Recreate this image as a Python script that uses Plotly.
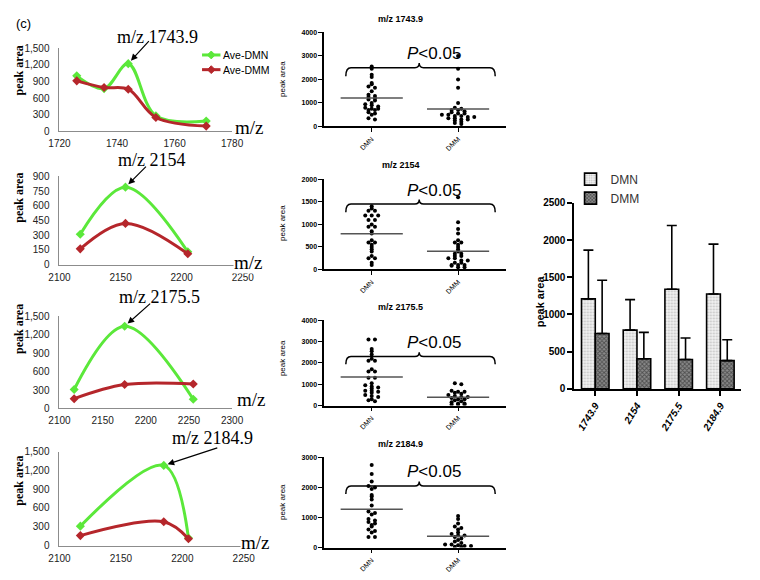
import numpy as np
import plotly.graph_objects as go

W, H = 760, 580

# ---------------- data ----------------
# left: averaged peak-area profiles (Ave-DMN / Ave-DMM)
mz_1 = [1726, 1735.5, 1743.9, 1753.5, 1771]
dmn_1 = [1000, 770, 1220, 280, 185]
dmm_1 = [910, 790, 760, 250, 95]

mz_2 = [2117, 2154, 2205]
dmn_2 = [310, 790, 130]
dmm_2 = [160, 420, 110]

mz_3 = [2117, 2175.5, 2255]
dmn_3 = [310, 1340, 150]
dmm_3 = [160, 390, 400]

mz_4 = [2117, 2184.9, 2205]
dmn_4 = [310, 1280, 120]
dmm_4 = [160, 380, 110]

line_names = ["Ave-DMN", "Ave-DMM"]
peak_labels = ["m/z 1743.9", "m/z 2154", "m/z 2175.5", "m/z 2184.9"]
peak_index = [2, 1, 1, 1]

# middle: individual peak areas
dot_titles = ["m/z 1743.9", "m/z 2154", "m/z 2175.5", "m/z 2184.9"]
dot_groups = ["DMN", "DMM"]
dmn_pts_1 = [2550, 2450, 2200, 2100, 1850, 1800, 1700, 1650, 1500, 1350, 1300, 1250, 1200, 1150,
             1100, 1000, 950, 900, 850, 800, 750, 750, 700, 700, 600, 550, 500, 350, 300]
dmm_pts_1 = [3000, 2450, 2000, 1650, 1000, 800, 750, 700, 700, 650, 600, 550, 550, 500, 500, 450,
             450, 400, 400, 350, 350, 300, 300, 250, 200, 150, 100]
dmn_pts_2 = [1400, 1350, 1300, 1300, 1200, 1200, 1200, 1100, 1100, 1000, 950, 950, 850, 800, 650,
             600, 600, 550, 500, 450, 400, 300, 250, 250, 150, 100]
dmm_pts_2 = [1600, 1050, 900, 800, 650, 600, 600, 550, 500, 450, 400, 350, 350, 300, 300, 250, 250,
             200, 200, 150, 150, 100, 100, 100, 80, 50, 50]
dmn_pts_3 = [3100, 3100, 2650, 2550, 2400, 2200, 2100, 2100, 1700, 1600, 1600, 1300, 1300, 1050, 950,
             900, 850, 800, 700, 700, 650, 600, 500, 450, 400, 300, 250, 200]
dmm_pts_3 = [1050, 1000, 700, 650, 650, 600, 550, 500, 450, 400, 400, 350, 300, 300, 250, 200, 150,
             100, 100, 50, 50, 50]
dmn_pts_4 = [2750, 2450, 2200, 2050, 2000, 1950, 1750, 1700, 1600, 1400, 1200, 1150, 1100, 950, 900,
             850, 800, 750, 700, 600, 550, 500, 350, 350]
dmm_pts_4 = [1050, 950, 800, 700, 650, 600, 500, 450, 400, 400, 350, 300, 250, 200, 150, 100, 100, 80,
             50, 50, 30, 30]
dot_ymax = [4000, 2000, 4000, 3000]
dot_dtick = [1000, 500, 1000, 1000]
bracket_y = [2500, 1450, 2300, 2050]
p_text = "<i>P</i>&lt;0.05"

# right: mean + SD
bar_cats = ["1743.9", "2154", "2175.5", "2184.9"]
dmn_mean = [1210, 790, 1340, 1275]
dmn_sd = [655, 410, 855, 670]
dmm_mean = [745, 405, 395, 380]
dmm_sd = [715, 355, 290, 280]

# ---------------- styling ----------------
GREEN = "#5BE83A"
RED = "#B5262B"
SERIF = "Liberation Serif, Times New Roman, serif"
SANS = "Liberation Sans, Arial, sans-serif"
NARROW = "Liberation Sans Narrow, Arial Narrow, Liberation Sans, sans-serif"


def dx(a, b):
    return [a / W, b / W]


def dy(top, bottom):
    return [1 - bottom / H, 1 - top / H]


def px(x):
    return x / W


def py(y):
    return 1 - y / H


fig = go.Figure()
layout = dict(width=W, height=H, margin=dict(l=0, r=0, t=0, b=0),
              paper_bgcolor="white", plot_bgcolor="white", showlegend=True,
              barmode="group", bargap=0.34, bargroupgap=0.0)
annotations = []
shapes = []

# ---------------- left line panels ----------------
line_sets = [(mz_1, dmn_1, dmm_1), (mz_2, dmn_2, dmm_2), (mz_3, dmn_3, dmm_3), (mz_4, dmn_4, dmm_4)]
line_geom = [  # (xdom px, ydom px, xrange, xdtick, ymax, ydtick)
    ((50, 228), (43, 128), [1720, 1780], 20, 1500, 300),
    ((50, 239), (174, 264), [2100, 2250], 50, 900, 150),
    ((50, 228), (317, 411), [2100, 2300], 50, 1500, 300),
    ((50, 240), (455, 551), [2100, 2250], 50, 1500, 300),
]
peak_text_pos = [(151, 32), (145, 157), (153, 297), (208, 441)]
arrow_off = [(22, -24), (22, -22), (27, -24), (55, -18)]
mz_label_pos = [(246, 124), (245, 262), (248, 402), (252, 548)]
mz_label_bg = [False, True, False, True]
ylab_center = [66, 196, 330, 485]

for i, ((mz, a, b), geom) in enumerate(zip(line_sets, line_geom)):
    (x0, x1), (y0, y1), xr, xdt, ymax, ydt = geom
    n = i + 1
    xa = "x" if n == 1 else f"x{n}"
    ya = "y" if n == 1 else f"y{n}"
    for vals, col, name in [(a, GREEN, line_names[0]), (b, RED, line_names[1])]:
        fig.add_trace(go.Scatter(
            x=mz, y=vals, mode="lines+markers", name=name, xaxis=xa, yaxis=ya,
            line=dict(color=col, width=3, shape="spline", smoothing=1.0),
            marker=dict(symbol="diamond", size=7, color=col), showlegend=False))
    key = "" if n == 1 else str(n)
    layout["xaxis" + key] = dict(domain=dx(x0, x1), range=xr, dtick=xdt, tick0=xr[0], anchor=ya,
                                 showline=True, linecolor="#8c8c8c", linewidth=1, showgrid=False,
                                 zeroline=False, ticks="", ticklabelstandoff=3,
                                 tickfont=dict(family=SANS, size=10, color="#222"))
    layout["yaxis" + key] = dict(domain=dy(y0, y1), range=[0, ymax], dtick=ydt, anchor=xa,
                                 showline=True, linecolor="#8c8c8c", linewidth=1, showgrid=False,
                                 zeroline=False, ticks="", tickformat=",d", ticklabelstandoff=7,
                                 tickfont=dict(family=SANS, size=10, color="#222"))
    # arrow to peak
    k = peak_index[i]
    annotations.append(dict(x=mz[k], y=a[k], xref=xa, yref=ya, text="", showarrow=True,
                            ax=arrow_off[i][0], ay=arrow_off[i][1], arrowhead=2, arrowsize=1.1,
                            arrowwidth=1.2, arrowcolor="black", standoff=4))
    tx, ty = peak_text_pos[i]
    annotations.append(dict(x=px(tx), y=py(ty), xref="paper", yref="paper", text=peak_labels[i],
                            showarrow=False, font=dict(family=SERIF, size=18, color="black"),
                            xanchor="center", yanchor="middle"))
    mx, my = mz_label_pos[i]
    annotations.append(dict(x=px(mx), y=py(my), xref="paper", yref="paper", text="m/z",
                            showarrow=False, font=dict(family=SERIF, size=19, color="black"),
                            xanchor="center", yanchor="middle", borderpad=0,
                            bgcolor="white" if mz_label_bg[i] else "rgba(0,0,0,0)"))
    annotations.append(dict(x=px(8), y=py(ylab_center[i]), xref="paper", yref="paper",
                            text="<b>peak area</b>", textangle=-90, showarrow=False,
                            font=dict(family=SERIF, size=12, color="black"),
                            xanchor="center", yanchor="middle"))

# legend key for the line charts (drawn as a small key box)
for j, (col, ly) in enumerate([(GREEN, 50), (RED, 65)]):
    shapes.append(dict(type="line", xref="paper", yref="paper", x0=px(197), x1=px(216),
                       y0=py(ly), y1=py(ly), line=dict(color=col, width=3)))
    cx, cy = 206.5, ly
    shapes.append(dict(type="path", xref="paper", yref="paper", fillcolor=col,
                       line=dict(color=col, width=1),
                       path=f"M {px(cx - 4)},{py(cy)} L {px(cx)},{py(cy - 4)} L {px(cx + 4)},{py(cy)} "
                            f"L {px(cx)},{py(cy + 4)} Z"))
    annotations.append(dict(x=px(217), y=py(ly), xref="paper", yref="paper", text=line_names[j],
                            showarrow=False, font=dict(family=SANS, size=10.5, color="black"),
                            xanchor="left", yanchor="middle"))

annotations.append(dict(x=px(3), y=py(18), xref="paper", yref="paper", text="(c)",
                        showarrow=False, font=dict(family=SANS, size=13, color="black"),
                        xanchor="left", yanchor="middle"))

# ---------------- middle dot plots ----------------
dot_sets = [(dmn_pts_1, dmm_pts_1), (dmn_pts_2, dmm_pts_2), (dmn_pts_3, dmm_pts_3), (dmn_pts_4, dmm_pts_4)]
dot_geom = [(27, 123), (177, 269), (321, 408), (461, 553)]
dot_title_y = [13, 162, 307, 447]
dot_ylab_y = [75, 222, 360, 507]
means = [(dmn_mean[j], dmm_mean[j]) for j in range(4)]


def swarm(vals, binw, step):
    vals = np.asarray(vals, dtype=float)
    bins = np.round(vals / binw).astype(int)
    offs = np.zeros(len(vals))
    for b in np.unique(bins):
        idx = np.where(bins == b)[0]
        m = len(idx)
        offs[idx] = (np.arange(m) - (m - 1) / 2) * step
    return offs


XR = [-0.55, 1.55]
for i, (g1, g2) in enumerate(dot_sets):
    n = 5 + i
    xa, ya = f"x{n}", f"y{n}"
    ymax = dot_ymax[i]
    y0, y1 = dot_geom[i]
    for c, vals in enumerate([g1, g2]):
        offs = swarm(vals, ymax * 0.028, 0.075)
        fig.add_trace(go.Scatter(x=c + offs, y=vals, mode="markers", xaxis=xa, yaxis=ya,
                                 marker=dict(size=4, color="black"), showlegend=False))
        fig.add_trace(go.Scatter(x=[c - 0.36, c + 0.36], y=[means[i][c]] * 2, mode="lines",
                                 xaxis=xa, yaxis=ya, line=dict(color="#555", width=1.5),
                                 showlegend=False))
    layout[f"xaxis{n}"] = dict(domain=dx(323, 510), range=XR, anchor=ya, tickvals=[0, 1],
                               ticktext=dot_groups, tickangle=-45, showline=True, linecolor="black",
                               linewidth=1.5, ticks="outside", ticklen=4, tickcolor="black",
                               showgrid=False, zeroline=False,
                               tickfont=dict(family=SANS, size=7, color="black"))
    layout[f"yaxis{n}"] = dict(domain=dy(y0, y1), range=[0, ymax], dtick=dot_dtick[i], anchor=xa,
                               showline=True, linecolor="black", linewidth=1.5, ticks="outside",
                               ticklen=4, tickcolor="black", showgrid=False, zeroline=False,
                               tickfont=dict(family=SANS, size=7, color="black", weight="bold"))
    # bracket
    yb = bracket_y[i]
    drop = ymax * 0.09
    notch = ymax * 0.05
    xl, xc, xr_ = -0.3, 0.55, 1.43
    path = (f"M {xl},{yb - drop} Q {xl},{yb} {xl + 0.06},{yb} L {xc - 0.05},{yb} "
            f"Q {xc},{yb} {xc},{yb + notch} Q {xc},{yb} {xc + 0.05},{yb} "
            f"L {xr_ - 0.06},{yb} Q {xr_},{yb} {xr_},{yb - drop}")
    shapes.append(dict(type="path", path=path, xref=xa, yref=ya,
                       line=dict(color="black", width=1.5)))
    annotations.append(dict(x=0.72, y=yb, xref=xa, yref=ya, text=p_text, showarrow=False,
                            yshift=14, font=dict(family=SANS, size=17, color="black"),
                            xanchor="center", yanchor="middle"))
    annotations.append(dict(x=px(402), y=py(dot_title_y[i]), xref="paper", yref="paper",
                            text="<b>" + dot_titles[i] + "</b>", showarrow=False,
                            font=dict(family=SANS, size=9, color="black"),
                            xanchor="center", yanchor="middle"))
    annotations.append(dict(x=px(280), y=py(dot_ylab_y[i]), xref="paper", yref="paper",
                            text="peak area", textangle=-90, showarrow=False,
                            font=dict(family=SANS, size=8, color="black"),
                            xanchor="center", yanchor="middle"))

# ---------------- right bar chart ----------------
xb = list(range(len(bar_cats)))
fig.add_trace(go.Bar(
    x=xb, y=dmn_mean, name="DMN", xaxis="x9", yaxis="y9", legend="legend",
    marker=dict(color="#f2f2f2", line=dict(color="black", width=1.6),
                pattern=dict(shape=".", fgcolor="#8a8a8a", bgcolor="#f4f4f4", size=3, solidity=0.35)),
    error_y=dict(type="data", array=dmn_sd, arrayminus=[0] * len(dmn_sd), symmetric=False,
                 color="black", thickness=1.6, width=5)))
fig.add_trace(go.Bar(
    x=xb, y=dmm_mean, name="DMM", xaxis="x9", yaxis="y9", legend="legend",
    marker=dict(color="#666", line=dict(color="black", width=1.6),
                pattern=dict(shape="x", fgcolor="#111", bgcolor="#8a8a8a", size=3, solidity=0.5)),
    error_y=dict(type="data", array=dmm_sd, arrayminus=[0] * len(dmm_sd), symmetric=False,
                 color="black", thickness=1.6, width=5)))
layout["xaxis9"] = dict(domain=dx(581, 753), range=[-0.5, len(bar_cats) - 0.5], anchor="y9",
                        tickvals=xb, ticktext=bar_cats, tickangle=-58, showline=True,
                        linecolor="black", linewidth=2, ticks="outside", ticklen=5,
                        tickcolor="black", tickwidth=1.5, showgrid=False, zeroline=False,
                        tickfont=dict(family=SANS, size=10, color="black", weight="bold",
                                      style="italic"))
layout["yaxis9"] = dict(domain=dy(201, 391), range=[0, 2500], dtick=500, anchor="x9",
                        showline=True, linecolor="black", linewidth=2, ticks="outside",
                        ticklen=5, tickcolor="black", tickwidth=1.5, showgrid=False, zeroline=False,
                        tickfont=dict(family=NARROW, size=10, color="black", weight="bold"))
layout["legend"] = dict(x=px(577), y=py(162), xanchor="left", yanchor="top",
                        bgcolor="rgba(0,0,0,0)", font=dict(family=NARROW, size=12, color="#333"),
                        itemwidth=30, tracegroupgap=0)
annotations.append(dict(x=px(545), y=py(302), xref="paper", yref="paper",
                        text="<b>peak area</b>", textangle=-90, showarrow=False,
                        font=dict(family=SANS, size=11, color="black"),
                        xanchor="center", yanchor="middle"))

layout["annotations"] = annotations
layout["shapes"] = shapes
fig.update_layout(**layout)
fig.write_html("out.html", config={"displayModeBar": False},
               post_script="document.body.style.margin='0px';document.body.style.padding='0px';")
